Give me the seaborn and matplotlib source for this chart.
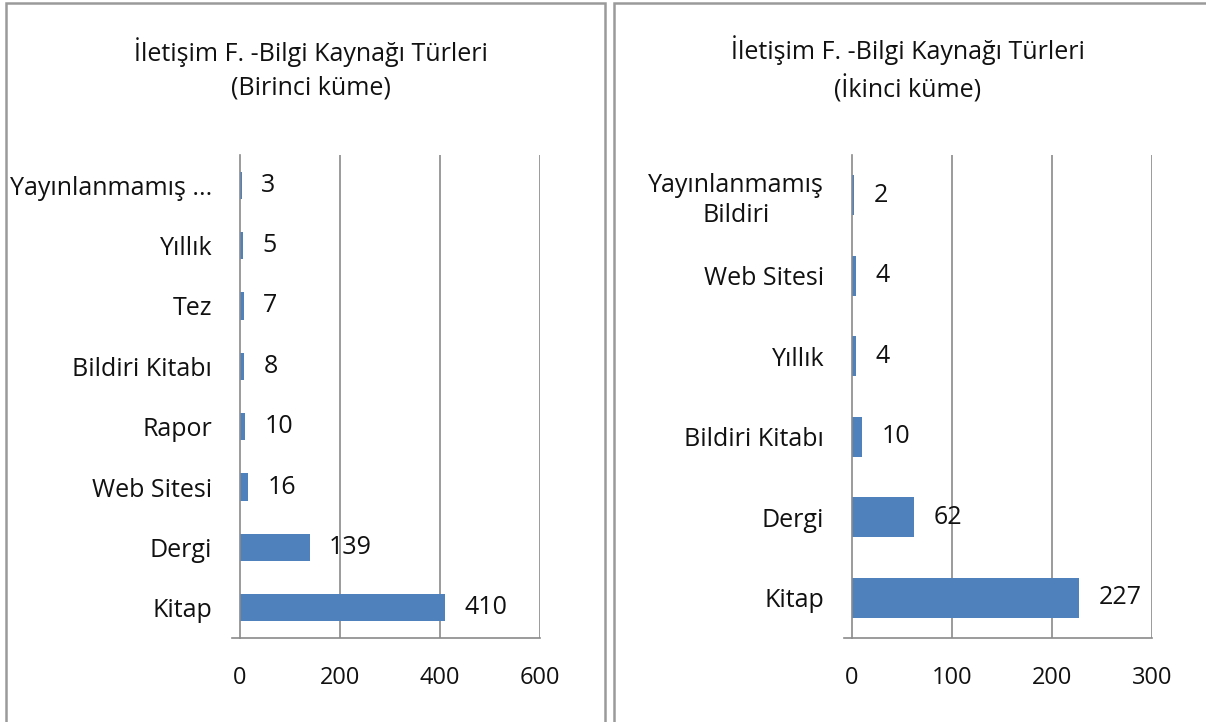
import matplotlib
matplotlib.use("Agg")
import matplotlib.pyplot as plt
import seaborn as sns
import pandas as pd
from matplotlib.patches import Rectangle

# ---- data ----
cats1 = ["Yayınlanmamış ...", "Yıllık", "Tez", "Bildiri Kitabı", "Rapor", "Web Sitesi", "Dergi", "Kitap"]
vals1 = [3, 5, 7, 8, 10, 16, 139, 410]
cats2 = ["Yayınlanmamış\nBildiri", "Web Sitesi", "Yıllık", "Bildiri Kitabı", "Dergi", "Kitap"]
vals2 = [2, 4, 4, 10, 62, 227]
title1 = "İletişim F. -Bilgi Kaynağı Türleri\n(Birinci küme)"
title2 = "İletişim F. -Bilgi Kaynağı Türleri\n(İkinci küme)"
xticks1 = [0, 200, 400, 600]
xticks2 = [0, 100, 200, 300]

BAR = "#4F81BD"
GRID = "#8a8a8a"
TXT = "#111111"
FS = 18
FSX = 17
FSV = 18

sns.set_theme(style="white")
plt.rcParams['font.family'] = ['Open Sans', 'DejaVu Sans']

W, H = 1206, 722
fig = plt.figure(figsize=(W / 100, H / 100), dpi=100)

# panel borders
for (x0, x1) in [(6, 605), (614, 1210)]:
    fig.patches.append(Rectangle((x0 / W, -0.05), (x1 - x0) / W, 1.05 - 3 / H,
                                 transform=fig.transFigure, fill=False,
                                 edgecolor="#9a9a9a", linewidth=1.8))

ax1 = fig.add_axes([240 / W, 1 - 638 / H, 300 / W, 483 / H])
ax2 = fig.add_axes([852 / W, 1 - 638 / H, 300 / W, 483 / H])


def draw(ax, cats, vals, xticks, width):
    df = pd.DataFrame({"cat": cats, "val": vals})
    sns.barplot(data=df, x="val", y="cat", orient="h", color=BAR, saturation=1,
                width=width, linewidth=0, ax=ax)
    n = len(cats)
    ax.set_xlim(xticks[0], xticks[-1])
    ax.set_ylim(n - 0.5, -0.5)
    ax.set_xticks(xticks)
    ax.set_xticklabels([str(t) for t in xticks], fontsize=FSX, color=TXT)
    ax.set_xlabel("")
    ax.set_ylabel("")
    ax.set_yticks(range(n))
    ax.set_yticklabels(cats, fontsize=FS, color=TXT)
    for lab in ax.get_yticklabels():
        lab.set_multialignment("center")
        lab.set_linespacing(1.25)
    ax.set_yticks([i - 0.5 for i in range(n + 1)], minor=True)
    ax.tick_params(axis="y", which="major", length=0, pad=20)
    ax.tick_params(axis="y", which="minor", length=6, width=1.2, color=GRID, direction="out")
    ax.tick_params(axis="x", which="major", length=8, width=1.2, color=GRID, direction="out", pad=12)
    for s in ["top", "right"]:
        ax.spines[s].set_visible(False)
    for s in ["left", "bottom"]:
        ax.spines[s].set_color(GRID)
        ax.spines[s].set_linewidth(1.2)
    ax.spines["bottom"].set_bounds(xticks[0] - (xticks[-1] - xticks[0]) * 8 / 300, xticks[-1])
    for t in xticks[1:]:
        ax.axvline(t, color=GRID, linewidth=1.2, zorder=0)
    ax.bar_label(ax.containers[0], padding=14, fontsize=FSV, color=TXT)


draw(ax1, cats1, vals1, xticks1, 0.45)
draw(ax2, cats2, vals2, xticks2, 0.5)

fig.text(311 / W, 1 - 69 / H, title1, ha="center", va="center", fontsize=18,
         color=TXT, linespacing=1.45)
fig.text(908 / W, 1 - 69 / H, title2, ha="center", va="center", fontsize=18,
         color=TXT, linespacing=1.45)

fig.savefig("out.png", dpi=100, facecolor="white")
